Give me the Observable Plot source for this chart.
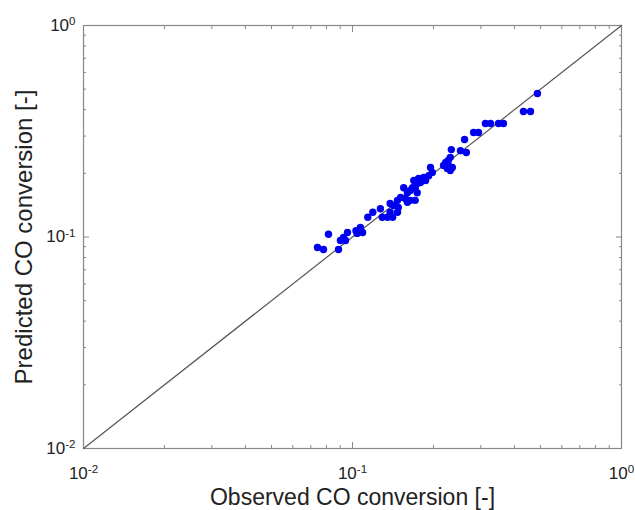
<!DOCTYPE html>
<html>
<head>
<meta charset="utf-8">
<script src="https://cdn.jsdelivr.net/npm/d3@7"></script>
<script src="https://cdn.jsdelivr.net/npm/@observablehq/plot@0.6"></script>
<style>
  html, body { margin: 0; padding: 0; background: #fff; }
  #chart svg { overflow: visible; }
</style>
</head>
<body>
<div id="chart"></div>
<script>
// Observed vs predicted CO conversion
const obsX = [0.487,0.432,0.459,0.312,0.326,0.349,0.364,0.282,0.294,0.261,0.252,0.265,0.233,0.231,0.227,0.222,0.218,0.227,0.235,0.225,0.231,0.195,0.198,0.192,0.184,0.187,0.179,0.176,0.169,0.174,0.167,0.171,0.164,0.174,0.160,0.155,0.171,0.164,0.157,0.160,0.151,0.147,0.142,0.138,0.148,0.147,0.138,0.141,0.135,0.129,0.127,0.119,0.114,0.107,0.103,0.109,0.104,0.0958,0.0926,0.0902,0.0942,0.0814,0.0741,0.0780,0.0887];
const predY = [0.477,0.392,0.392,0.344,0.344,0.344,0.344,0.312,0.312,0.289,0.256,0.251,0.259,0.238,0.230,0.225,0.218,0.218,0.213,0.211,0.206,0.213,0.202,0.195,0.191,0.185,0.181,0.189,0.185,0.179,0.171,0.170,0.166,0.162,0.162,0.171,0.149,0.149,0.152,0.146,0.154,0.149,0.141,0.144,0.138,0.131,0.131,0.124,0.124,0.124,0.136,0.131,0.124,0.111,0.107,0.105,0.104,0.105,0.0995,0.0963,0.0963,0.103,0.0892,0.0873,0.0873];

const diagonal = [0.01, 1];
const majorTicks = [0.01, 0.1, 1];
const tickLabels = ["10^-2", "10^-1", "10^0"];
const minorTicks = [0.02,0.03,0.04,0.05,0.06,0.07,0.08,0.09,0.2,0.3,0.4,0.5,0.6,0.7,0.8,0.9];
const xLabel = "Observed CO conversion [-]";
const yLabel = "Predicted CO conversion [-]";

const points = obsX.map((x, i) => ({x, y: predY[i]}));
const fmt = d => tickLabels[majorTicks.indexOf(d)];
const blank = () => "";

const chart = Plot.plot({
  width: 635,
  height: 510,
  marginLeft: 83,
  marginRight: 14,
  marginTop: 25,
  marginBottom: 62,
  style: {fontFamily: "'Liberation Sans', Arial, sans-serif", fontSize: "16px", color: "#222", background: "#fff"},
  x: {type: "log", domain: [0.01, 1], label: null},
  y: {type: "log", domain: [0.01, 1], label: null},
  marks: [
    Plot.frame({stroke: "#888", strokeWidth: 1.2}),
    // minor ticks, inward on all four sides
    Plot.axisX(minorTicks, {anchor: "bottom", tickSize: -3, tickFormat: blank, stroke: "#888", label: null}),
    Plot.axisX(minorTicks, {anchor: "top", tickSize: -3, tickFormat: blank, stroke: "#888", label: null}),
    Plot.axisY(minorTicks, {anchor: "left", tickSize: -3, tickFormat: blank, stroke: "#888", label: null}),
    Plot.axisY(minorTicks, {anchor: "right", tickSize: -3, tickFormat: blank, stroke: "#888", label: null}),
    // major ticks, inward
    Plot.axisX(majorTicks, {anchor: "bottom", tickSize: -6, tickFormat: blank, stroke: "#888", label: null}),
    Plot.axisX(majorTicks, {anchor: "top", tickSize: -6, tickFormat: blank, stroke: "#888", label: null}),
    Plot.axisY(majorTicks, {anchor: "left", tickSize: -6, tickFormat: blank, stroke: "#888", label: null}),
    Plot.axisY(majorTicks, {anchor: "right", tickSize: -6, tickFormat: blank, stroke: "#888", label: null}),
    // tick labels
    Plot.axisX(majorTicks, {anchor: "bottom", tickSize: 0, tickPadding: 18, tickFormat: fmt, fontSize: 17, label: null}),
    Plot.axisY(majorTicks, {anchor: "left", tickSize: 0, tickPadding: 8, tickFormat: fmt, fontSize: 17, label: null}),
    // identity line
    Plot.line(diagonal, {x: d => d, y: d => d, stroke: "#555", strokeWidth: 1.2}),
    // data
    Plot.dot(points, {x: "x", y: "y", r: 3.7, fill: "#0000f0", stroke: "none"}),
    // axis titles
    Plot.text([xLabel], {frameAnchor: "bottom", textAnchor: "middle", lineAnchor: "bottom", dy: 56, fontSize: 23, fill: "#222", text: d => d}),
    Plot.text([yLabel], {frameAnchor: "left", textAnchor: "middle", lineAnchor: "bottom", rotate: -90, dx: -52, fontSize: 24, fill: "#222", text: d => d})
  ]
});

// render exponents as superscripts
chart.querySelectorAll("text").forEach(t => {
  const m = /^10\^(.+)$/.exec(t.textContent);
  if (!m) return;
  t.textContent = "";
  const base = document.createElementNS("http://www.w3.org/2000/svg", "tspan");
  base.textContent = "10";
  const sup = document.createElementNS("http://www.w3.org/2000/svg", "tspan");
  sup.textContent = m[1];
  sup.setAttribute("dy", "-0.5em");
  sup.setAttribute("font-size", "0.68em");
  t.appendChild(base);
  t.appendChild(sup);
});

document.getElementById("chart").appendChild(chart);
</script>
</body>
</html>
